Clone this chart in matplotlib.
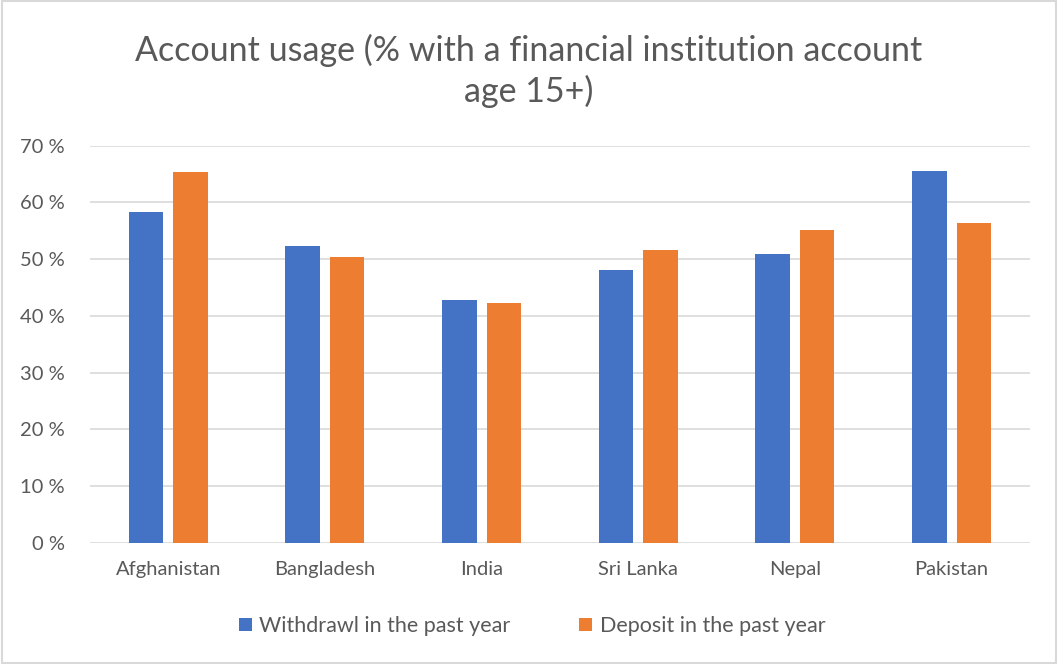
import matplotlib.pyplot as plt
import numpy as np
from matplotlib.patches import Rectangle
from matplotlib.ticker import FuncFormatter

countries = ["Afghanistan", "Bangladesh", "India", "Sri Lanka", "Nepal", "Pakistan"]
withdrawl = [58.4, 52.4, 42.8, 48.1, 50.9, 65.6]
deposit = [65.4, 50.4, 42.2, 51.7, 55.1, 56.3]

blue = "#4472c4"
orange = "#ed7d31"
grey_text = "#595959"

plt.rcParams['font.family'] = ['Lato', 'DejaVu Sans']

fig = plt.figure(figsize=(10.58, 6.64), dpi=100)
ax = fig.add_axes([0.085, 0.1822, 0.8885, 0.5984])

x = np.arange(len(countries))
w = 0.22
ax.bar(x - 0.142, withdrawl, w, color=blue, label="Withdrawl in the past year", zorder=3)
ax.bar(x + 0.142, deposit, w, color=orange, label="Deposit in the past year", zorder=3)

ax.set_xlim(-0.5, len(countries) - 0.5)
ax.set_ylim(0, 70)
ax.set_yticks(range(0, 71, 10))
ax.yaxis.set_major_formatter(FuncFormatter(lambda v, p: f"{int(v)} %"))
ax.set_xticks(x)
ax.set_xticklabels(countries)
ax.tick_params(length=0, labelsize=14.5, labelcolor=grey_text)
ax.tick_params(axis='y', pad=18)
ax.tick_params(axis='x', pad=13)
ax.grid(axis='y', color="#d9d9d9", lw=1.2, zorder=0)
for s in ax.spines.values():
    s.set_visible(False)

fig.text(0.5, 0.893, "Account usage (% with a financial institution account\nage 15+)",
         ha='center', va='center', fontsize=24.5, color=grey_text, linespacing=1.3)

ax.legend(loc='center', ncol=2, frameon=False, fontsize=15.5, labelcolor=grey_text,
          handlelength=0.6, handleheight=0.6, columnspacing=3.2, handletextpad=0.35)
ax.get_legend().set_bbox_to_anchor((0.503, 0.057), transform=fig.transFigure)

fig.patches.append(Rectangle((0.002, 0.002), 0.996, 0.996, transform=fig.transFigure,
                             fill=False, edgecolor="#d9d9d9", lw=1.5))

fig.savefig("out.png", dpi=100, facecolor="white")
